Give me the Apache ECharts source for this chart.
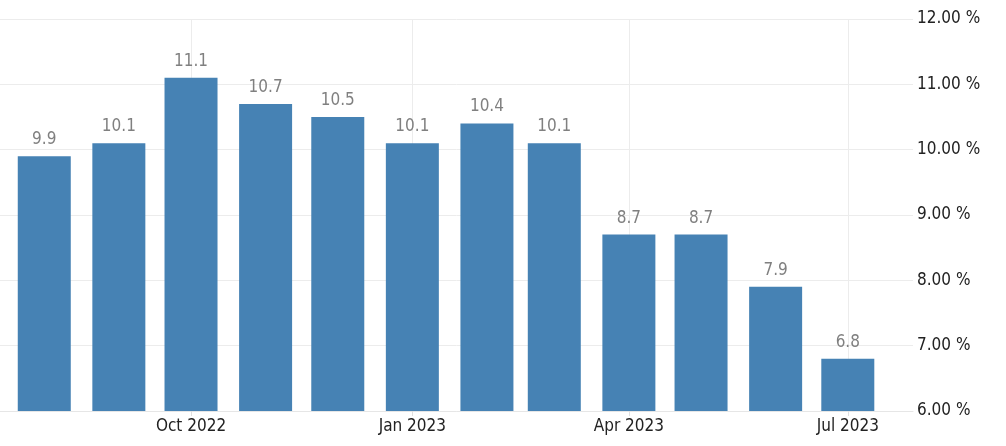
<!DOCTYPE html>
<html><head><meta charset="utf-8">
<script src="https://cdn.jsdelivr.net/npm/echarts@6/dist/echarts.min.js"></script>
<style>html,body{margin:0;padding:0;background:#fff}#c{width:1006px;height:446px}</style>
</head><body><div id="c"></div>
<script>
const months = ['2022-08-01','2022-09-01','2022-10-01','2022-11-01','2022-12-01','2023-01-01','2023-02-01','2023-03-01','2023-04-01','2023-05-01','2023-06-01','2023-07-01'];
const values = [9.9, 10.1, 11.1, 10.7, 10.5, 10.1, 10.4, 10.1, 8.7, 8.7, 7.9, 6.8];
const tickDates = ['2022-10-01','2023-01-01','2023-04-01','2023-07-01'];
const tickLabels = ['Oct 2022','Jan 2023','Apr 2023','Jul 2023'];
const yMin = 6, yMax = 12, yStep = 1;

const DAY = 86400000;
const ts = s => { const p = s.split('-').map(Number); return Date.UTC(p[0], p[1]-1, p[2]); };
const monthTs = months.map(ts);
const tickTs = tickDates.map(ts);
const FONT = '"DejaVu Sans Condensed", "DejaVu Sans", sans-serif';

const chart = echarts.init(document.getElementById('c'), null, {renderer:'canvas'});
chart.setOption({
  animation: false,
  backgroundColor: '#ffffff',
  grid: {left: 0, right: 93, top: 19, bottom: 35, containLabel: false},
  xAxis: {
    type: 'value',
    min: monthTs[0] - 18.4 * DAY,
    max: monthTs[monthTs.length-1] + 27.1 * DAY,
    axisLine: {show: true, lineStyle: {color: '#e6e6e6'}},
    axisTick: {show: true, length: 5, customValues: tickTs, lineStyle: {color: '#e0e0e0'}},
    axisLabel: {
      customValues: tickTs, margin: 7,
      fontFamily: FONT, fontSize: 17, color: '#222',
      formatter: v => { const i = tickTs.indexOf(v); return i >= 0 ? tickLabels[i] : ''; }
    },
    splitLine: {show: true, lineStyle: {color: '#ececec', width: 1}}
  },
  yAxis: {
    type: 'value', position: 'right',
    min: yMin, max: yMax, interval: yStep,
    axisLine: {show: false}, axisTick: {show: false},
    axisLabel: {margin: 4, fontFamily: FONT, fontSize: 17, color: '#222',
      formatter: v => v.toFixed(2) + ' %'},
    splitLine: {show: true, lineStyle: {color: '#ececec', width: 1}}
  },
  series: [{
    type: 'bar',
    data: monthTs.map((t, i) => [t, values[i]]),
    barWidth: 53,
    itemStyle: {color: '#4682b4'},
    label: {show: true, position: 'top', distance: 8,
      fontFamily: FONT, fontSize: 17, color: '#808080',
      formatter: p => values[p.dataIndex].toFixed(1)}
  }]
});
</script></body></html>
